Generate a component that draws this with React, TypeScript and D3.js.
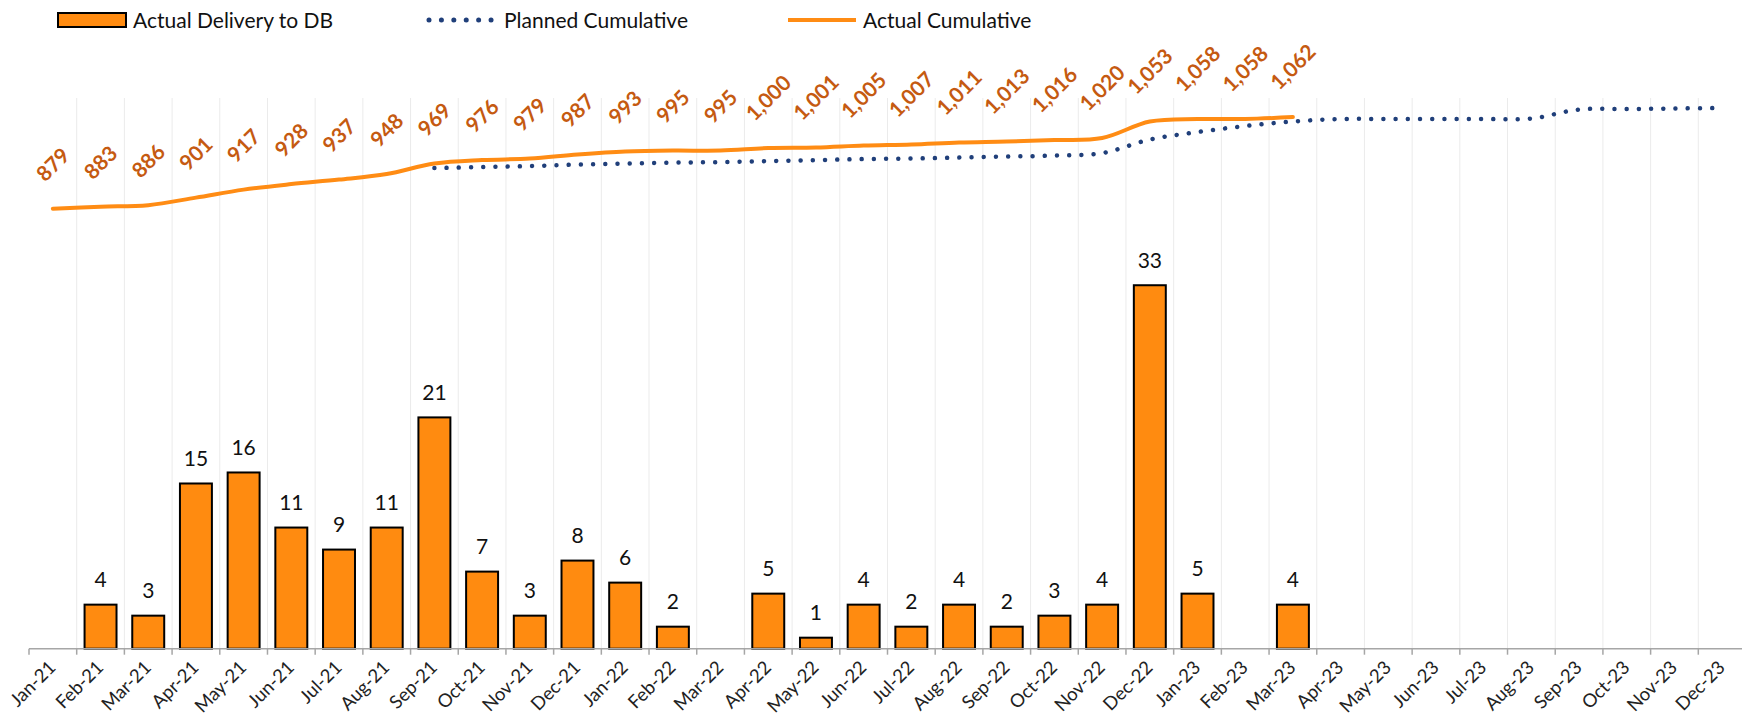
import React, { useEffect, useRef } from 'react';
import * as d3 from 'd3';

// month categories (x axis tick labels)
const months = [
  'Jan-21', 'Feb-21', 'Mar-21', 'Apr-21', 'May-21', 'Jun-21', 'Jul-21', 'Aug-21', 'Sep-21', 'Oct-21', 'Nov-21', 'Dec-21',
  'Jan-22', 'Feb-22', 'Mar-22', 'Apr-22', 'May-22', 'Jun-22', 'Jul-22', 'Aug-22', 'Sep-22', 'Oct-22', 'Nov-22', 'Dec-22',
  'Jan-23', 'Feb-23', 'Mar-23', 'Apr-23', 'May-23', 'Jun-23', 'Jul-23', 'Aug-23', 'Sep-23', 'Oct-23', 'Nov-23', 'Dec-23',
];

// Actual Delivery to DB (Jan-21 .. Mar-23), null = no bar
const deliveries: (number | null)[] = [
  null, 4, 3, 15, 16, 11, 9, 11, 21, 7, 3, 8,
  6, 2, null, 5, 1, 4, 2, 4, 2, 3, 4, 33,
  5, null, 4,
];

// Actual Cumulative (Jan-21 .. Mar-23)
const actualCumulative = [
  879, 883, 886, 901, 917, 928, 937, 948, 969, 976, 979, 987,
  993, 995, 995, 1000, 1001, 1005, 1007, 1011, 1013, 1016, 1020, 1053,
  1058, 1058, 1062,
];

// Planned Cumulative starts at Sep-21 and runs to Dec-23
const plannedStart = 8;
const plannedCumulative = [
  960, 962, 964, 967, 969, 971, 972, 974, 976, 978, 979, 981,
  983, 985, 990, 1017, 1032, 1044, 1053, 1058, 1058, 1058, 1058, 1059,
  1077, 1078, 1079, 1080,
];

const W = 1742;
const H = 726;
const BAR = '#FF8B10';
const LINE = '#FF8C14';
const NAVY = '#203F7A';
const LABEL = '#C55A11';
const FONT = 'Lato, "Open Sans", sans-serif';

const App = () => {
  const svgRef = useRef<SVGSVGElement>(null);

  useEffect(() => {
    const svg = d3.select(svgRef.current).attr('width', W).attr('height', H);
    svg.selectAll('*').remove();

    const top = 98;
    const bottom = 648.7;

    const x = d3.scaleBand<string>()
      .domain(months)
      .range([29, 1746])
      .paddingInner(0.33)
      .paddingOuter(0.165);
    const cx = (i: number) => (x(months[i]) as number) + x.bandwidth() / 2;

    const y = d3.scaleLinear().domain([0, 50]).range([bottom, top]);
    const y2 = d3.scaleLinear().domain([0, 1100]).range([bottom, top]);

    // vertical gridlines at category boundaries
    const step = x.step();
    const bounds = d3.range(months.length + 1).map(i => 29 + i * step);
    svg.append('g')
      .selectAll('line')
      .data(bounds.slice(1))
      .enter()
      .append('line')
      .attr('x1', d => d).attr('x2', d => d)
      .attr('y1', top).attr('y2', bottom)
      .attr('stroke', '#EBEBEB')
      .attr('stroke-width', 1);

    // bars
    const barData = deliveries
      .map((v, i) => ({ v, i }))
      .filter(d => d.v !== null) as { v: number; i: number }[];

    svg.append('g')
      .selectAll('rect')
      .data(barData)
      .enter()
      .append('rect')
      .attr('x', d => x(months[d.i]) as number)
      .attr('y', d => y(d.v))
      .attr('width', x.bandwidth())
      .attr('height', d => bottom - y(d.v))
      .attr('fill', BAR)
      .attr('stroke', '#000')
      .attr('stroke-width', 2);

    svg.append('g')
      .selectAll('text')
      .data(barData)
      .enter()
      .append('text')
      .attr('x', d => cx(d.i))
      .attr('y', d => y(d.v) - 17.5)
      .attr('text-anchor', 'middle')
      .attr('font-family', FONT)
      .attr('font-size', 21)
      .attr('fill', '#111')
      .text(d => d.v);

    // x axis
    svg.append('line')
      .attr('x1', 29).attr('x2', W)
      .attr('y1', bottom).attr('y2', bottom)
      .attr('stroke', '#A6A6A6')
      .attr('stroke-width', 1.5);
    svg.append('g')
      .selectAll('line')
      .data(bounds)
      .enter()
      .append('line')
      .attr('x1', d => d).attr('x2', d => d)
      .attr('y1', bottom).attr('y2', bottom + 6)
      .attr('stroke', '#A6A6A6')
      .attr('stroke-width', 1.5);

    svg.append('g')
      .selectAll('text')
      .data(months)
      .enter()
      .append('text')
      .attr('transform', (d, i) => `translate(${cx(i) + 4},${bottom + 20}) rotate(-45)`)
      .attr('text-anchor', 'end')
      .attr('font-family', FONT)
      .attr('font-size', 18.5)
      .attr('fill', '#222')
      .text(d => d);

    // planned cumulative (dotted)
    const planned = plannedCumulative.map((v, k) => [cx(plannedStart + k), y2(v)] as [number, number]);
    const lineGen = d3.line().curve(d3.curveCatmullRom.alpha(0.5));
    svg.append('path')
      .attr('d', lineGen(planned))
      .attr('fill', 'none')
      .attr('stroke', NAVY)
      .attr('stroke-width', 4.5)
      .attr('stroke-linecap', 'round')
      .attr('stroke-dasharray', '0.01 12.2');

    // actual cumulative
    const actual = actualCumulative.map((v, i) => [cx(i), y2(v)] as [number, number]);
    svg.append('path')
      .attr('d', lineGen(actual))
      .attr('fill', 'none')
      .attr('stroke', LINE)
      .attr('stroke-width', 4)
      .attr('stroke-linecap', 'round');

    // rotated value labels above actual cumulative
    const labels = svg.append('g');
    actualCumulative.forEach((v, i) => {
      const g = labels.append('g');
      const t = g.append('text')
        .attr('text-anchor', 'middle')
        .attr('dy', '0.36em')
        .attr('font-family', FONT)
        .attr('font-weight', 'bold')
        .attr('font-size', 21)
        .attr('fill', LABEL)
        .text(d3.format(',')(v));
      const w = (t.node() as SVGTextElement).getComputedTextLength();
      const half = (w + 15) / Math.SQRT2 / 2;
      g.attr('transform', `translate(${cx(i)},${y2(v) - 26 - half}) rotate(-45)`);
    });

    // legend
    const lg = svg.append('g').attr('font-family', FONT).attr('font-size', 21).attr('fill', '#111');
    lg.append('rect')
      .attr('x', 58).attr('y', 13).attr('width', 68).attr('height', 14)
      .attr('fill', BAR).attr('stroke', '#000').attr('stroke-width', 2);
    lg.append('text').attr('x', 133).attr('y', 27.5).text('Actual Delivery to DB');
    lg.append('line')
      .attr('x1', 429).attr('x2', 492).attr('y1', 20).attr('y2', 20)
      .attr('stroke', NAVY).attr('stroke-width', 5)
      .attr('stroke-linecap', 'round').attr('stroke-dasharray', '0.01 12.4');
    lg.append('text').attr('x', 504).attr('y', 27.5).text('Planned Cumulative');
    lg.append('line')
      .attr('x1', 788).attr('x2', 856).attr('y1', 20).attr('y2', 20)
      .attr('stroke', LINE).attr('stroke-width', 4);
    lg.append('text').attr('x', 863).attr('y', 27.5).text('Actual Cumulative');
  }, []);

  return <svg ref={svgRef} style={{ position: 'absolute', left: 0, top: 0 }} />;
};

export default App;
